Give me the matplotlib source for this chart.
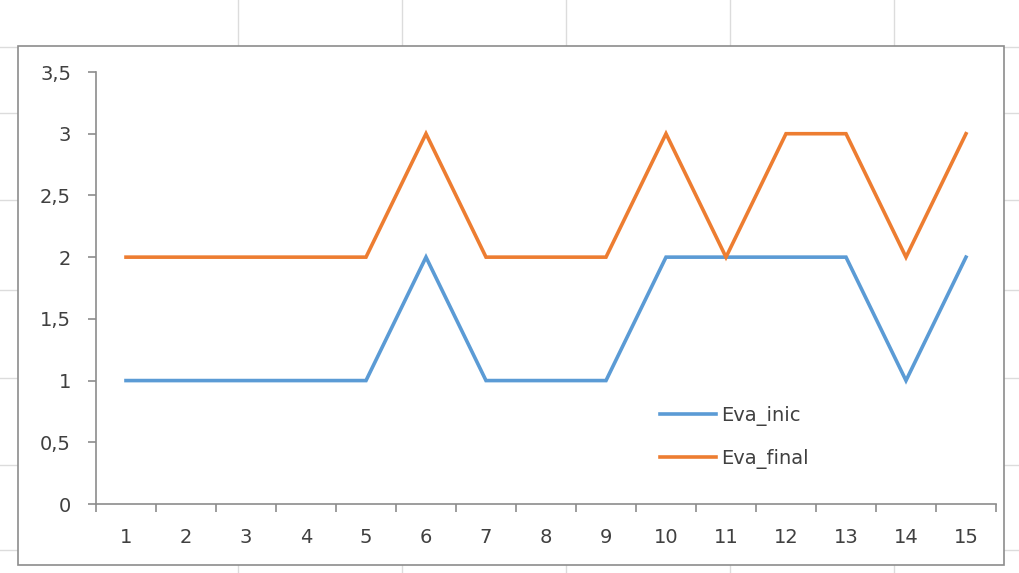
import matplotlib
matplotlib.use("Agg")
import matplotlib.pyplot as plt
from matplotlib.lines import Line2D
from matplotlib.patches import Rectangle
from matplotlib.ticker import FixedLocator, FuncFormatter

categories = list(range(1, 16))
eva_inic = [1, 1, 1, 1, 1, 2, 1, 1, 1, 2, 2, 2, 2, 1, 2]
eva_final = [2, 2, 2, 2, 2, 3, 2, 2, 2, 3, 2, 3, 3, 2, 3]
y_ticks = [0, 0.5, 1, 1.5, 2, 2.5, 3, 3.5]

W, H = 1019, 573
fig = plt.figure(figsize=(W / 100, H / 100), dpi=100)
fig.patch.set_facecolor("white")

def fx(px):
    return px / W

def fy(py):
    return 1 - py / H

# spreadsheet background grid
grid_c = "#dcdcdc"
for xv in [238, 402, 566, 730, 894]:
    fig.add_artist(Line2D([fx(xv), fx(xv)], [0, 1], color=grid_c, lw=1, zorder=0))
for yv in [47, 113, 200, 290, 378, 465, 550]:
    fig.add_artist(Line2D([0, 1], [fy(yv), fy(yv)], color=grid_c, lw=1, zorder=0))

# chart area
fig.add_artist(Rectangle((fx(18), fy(565)), fx(1004) - fx(18), fy(46) - fy(565),
                         facecolor="white", edgecolor="#8c8c8c", lw=1.2, zorder=1))

ax = fig.add_axes([fx(96), fy(504), fx(996) - fx(96), fy(72) - fy(504)], zorder=2)
ax.patch.set_alpha(0)

blue = "#5B9BD5"
orange = "#ED7D31"
ax.plot(categories, eva_inic, color=blue, lw=2.6, label="Eva_inic", solid_joinstyle="miter")
ax.plot(categories, eva_final, color=orange, lw=2.6, label="Eva_final", solid_joinstyle="miter")

ax.set_xlim(0.5, 15.5)
ax.set_ylim(0, 3.5)
ax.set_yticks(y_ticks)
ax.yaxis.set_major_formatter(FuncFormatter(lambda v, p: (f"{v:g}").replace(".", ",")))
ax.set_xticks(categories)
ax.set_xticklabels([str(c) for c in categories])
ax.xaxis.set_minor_locator(FixedLocator([c + 0.5 for c in [0] + categories]))

for s in ["top", "right"]:
    ax.spines[s].set_visible(False)
for s in ["left", "bottom"]:
    ax.spines[s].set_color("#8c8c8c")
    ax.spines[s].set_linewidth(1.2)

txt_c = "#404040"
fs = 14
ax.tick_params(axis="x", which="major", length=0, pad=17, labelsize=fs, labelcolor=txt_c)
ax.tick_params(axis="x", which="minor", length=6, direction="out", color="#8c8c8c", width=1.2)
ax.tick_params(axis="y", which="major", length=6, direction="out", color="#8c8c8c", width=1.2,
               pad=12, labelsize=fs, labelcolor=txt_c)

leg = ax.legend(loc="upper left", bbox_to_anchor=(fx(650), fy(396)), bbox_transform=fig.transFigure,
                frameon=False, fontsize=fs, handlelength=2.9, handletextpad=0.25,
                labelspacing=1.2, borderpad=0)
for t in leg.get_texts():
    t.set_color(txt_c)

fig.savefig("out.png", dpi=100)
